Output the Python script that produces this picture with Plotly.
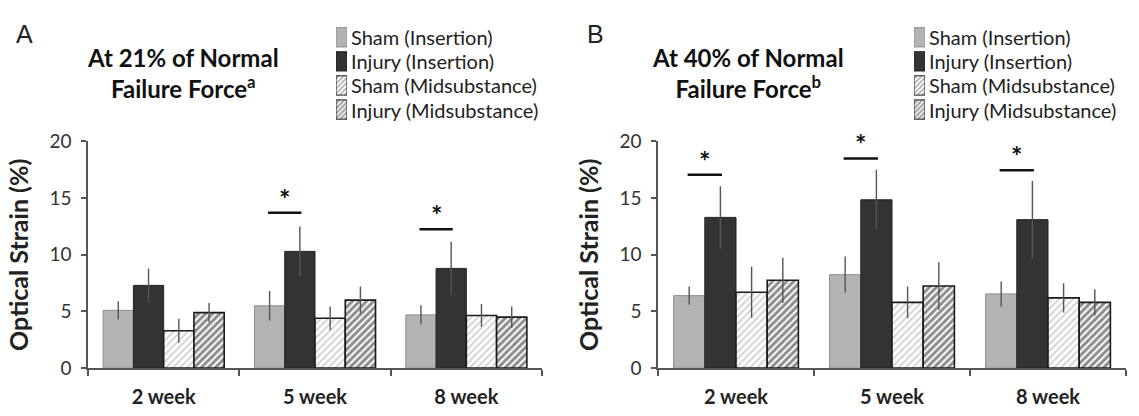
import plotly.graph_objects as go

weeks = ["2 week", "5 week", "8 week"]
series_names = ["Sham (Insertion)", "Injury (Insertion)", "Sham (Midsubstance)", "Injury (Midsubstance)"]

# Panel A: at 21% of normal failure force
a_sham_ins = [5.1, 5.5, 4.7]
a_sham_ins_err = [0.8, 1.3, 0.85]
a_inj_ins = [7.3, 10.3, 8.8]
a_inj_ins_err = [1.5, 2.2, 2.35]
a_sham_mid = [3.3, 4.4, 4.65]
a_sham_mid_err = [1.05, 1.05, 1.0]
a_inj_mid = [4.9, 6.0, 4.5]
a_inj_mid_err = [0.85, 1.2, 0.95]
a_sig_weeks = [1, 2]
a_sig_y = [13.7, 12.25]

# Panel B: at 40% of normal failure force
b_sham_ins = [6.4, 8.25, 6.55]
b_sham_ins_err = [0.8, 1.6, 1.1]
b_inj_ins = [13.3, 14.85, 13.1]
b_inj_ins_err = [2.75, 2.65, 3.4]
b_sham_mid = [6.7, 5.8, 6.2]
b_sham_mid_err = [2.25, 1.4, 1.3]
b_inj_mid = [7.75, 7.25, 5.8]
b_inj_mid_err = [2.0, 2.1, 1.15]
b_sig_weeks = [0, 1, 2]
b_sig_y = [17.05, 18.5, 17.45]

FONT = "Lato"
BARGAP = 0.2
W, H = 1139, 416

fill_colors = ["#b3b3b3", "#333333", "white", "white"]
line_colors = ["#8e8e8e", "#222222", "#1a1a1a", "#1a1a1a"]
line_widths = [1, 1, 1.6, 1.6]
pat_shapes = ["", "", "/", "/"]
pat_fg = ["#b3b3b3", "#333333", "#a8a8a8", "#1e1e1e"]
pat_solidity = [0.3, 0.3, 0.4, 0.6]

def marker(i, size=5):
    m = dict(color=fill_colors[i], line=dict(color=line_colors[i], width=line_widths[i]))
    if pat_shapes[i]:
        m["pattern"] = dict(shape=pat_shapes[i], fgcolor=pat_fg[i], bgcolor="white",
                            size=size, solidity=pat_solidity[i])
    return m

panels = [
    dict(xa="x", ya="y",
         vals=[a_sham_ins, a_inj_ins, a_sham_mid, a_inj_mid],
         errs=[a_sham_ins_err, a_inj_ins_err, a_sham_mid_err, a_inj_mid_err],
         sig_w=a_sig_weeks, sig_y=a_sig_y),
    dict(xa="x2", ya="y2",
         vals=[b_sham_ins, b_inj_ins, b_sham_mid, b_inj_mid],
         errs=[b_sham_ins_err, b_inj_ins_err, b_sham_mid_err, b_inj_mid_err],
         sig_w=b_sig_weeks, sig_y=b_sig_y),
]

fig = go.Figure()
shapes = []
annotations = []
nbars = len(series_names)
bw = (1 - BARGAP) / nbars
for p in panels:
    for i, name in enumerate(series_names):
        fig.add_trace(go.Bar(
            x=weeks, y=p["vals"][i], name=name, marker=marker(i),
            error_y=dict(type="data", array=p["errs"][i], color="#555555", thickness=1.4, width=0),
            xaxis=p["xa"], yaxis=p["ya"], showlegend=False,
        ))
    # significance markers between Sham (Insertion) and Injury (Insertion)
    c0 = -(1 - BARGAP) / 2 + bw / 2
    c1 = c0 + bw
    for w, yv in zip(p["sig_w"], p["sig_y"]):
        shapes.append(dict(type="line", xref=p["xa"], yref=p["ya"],
                           x0=w + c0 - 0.01, x1=w + c1 + 0.01, y0=yv, y1=yv,
                           line=dict(color="#111111", width=2.5)))
        annotations.append(dict(xref=p["xa"], yref=p["ya"], x=w + (c0 + c1) / 2, y=yv,
                                text="<b>*</b>", showarrow=False, yanchor="bottom", yshift=-4,
                                font=dict(family=FONT, size=27, color="#111111")))

# Legends (one per panel), drawn as small swatch bars with labels
legend_specs = [dict(xa="x3", ya="y3"), dict(xa="x4", ya="y4")]
LEG_TOP, LEG_PITCH = 13, 26
leg_bottom = LEG_TOP + LEG_PITCH * nbars
for spec in legend_specs:
    fig.add_trace(go.Bar(
        x=[1] * nbars, y=series_names, orientation="h",
        marker=dict(color=fill_colors, line=dict(color=line_colors, width=1),
                    pattern=dict(shape=pat_shapes, fgcolor=pat_fg, bgcolor="white",
                                 size=3.5, solidity=pat_solidity)),
        xaxis=spec["xa"], yaxis=spec["ya"], showlegend=False, hoverinfo="skip",
    ))
    for name in series_names:
        annotations.append(dict(xref=spec["xa"], yref=spec["ya"], x=1, y=name, xanchor="left",
                                xshift=3, text=name, showarrow=False, borderpad=0,
                                font=dict(family=FONT, size=20, color="#222222")))

axis_common_x = dict(type="category", tickson="boundaries", ticks="outside", ticklen=6,
                     tickcolor="#555555", tickwidth=1.5, showline=True, linecolor="#555555",
                     linewidth=1.5, showgrid=False, zeroline=False, ticklabelstandoff=10,
                     tickfont=dict(family=FONT, size=20, color="#222222", weight=700))
axis_common_y = dict(range=[0, 20], dtick=5, ticks="outside", ticklen=5, tickcolor="#555555",
                     tickwidth=1.5, showline=True, linecolor="#555555", linewidth=1.5,
                     showgrid=False, zeroline=False, ticklabelstandoff=6,
                     tickfont=dict(family=FONT, size=19, color="#333333"),
                     title=dict(text="<b>Optical Strain (%)</b>", standoff=14,
                                font=dict(family=FONT, size=25, color="#222222")))
hidden_x = dict(range=[0, 1], visible=False, fixedrange=True)
hidden_y = dict(type="category", autorange="reversed", visible=False, fixedrange=True,
                domain=[1 - leg_bottom / H, 1 - LEG_TOP / H])

y0 = (H - 377) / H
y1 = (H - 137) / H

annotations += [
    dict(xref="paper", yref="paper", x=14 / W, y=1 - 23 / H, xanchor="left", yanchor="middle",
         text="A", showarrow=False, font=dict(family="Liberation Sans", size=25, color="#222222")),
    dict(xref="paper", yref="paper", x=585 / W, y=1 - 23 / H, xanchor="left", yanchor="middle",
         text="B", showarrow=False, font=dict(family="Liberation Sans", size=25, color="#222222")),
]
titles = [("At 21% of Normal", "Failure Force<sup>a</sup>", 183),
          ("At 40% of Normal", "Failure Force<sup>b</sup>", 748)]
for l1, l2, cx in titles:
    annotations.append(dict(xref="paper", yref="paper", x=cx / W, y=1 - 65 / H, xanchor="center",
                            yanchor="middle", text="<b>" + l1 + "<br>" + l2 + "</b>",
                            showarrow=False,
                            font=dict(family=FONT, size=24, color="#111111")))

fig.update_layout(
    width=W, height=H,
    margin=dict(l=0, r=0, t=0, b=0),
    paper_bgcolor="white", plot_bgcolor="rgba(0,0,0,0)",
    barmode="group", bargap=BARGAP, bargroupgap=0,
    font=dict(family=FONT, color="#222222"),
    showlegend=False,
    xaxis=dict(domain=[88 / W, 542 / W], anchor="y", **axis_common_x),
    yaxis=dict(domain=[y0, y1], anchor="x", **axis_common_y),
    xaxis2=dict(domain=[658 / W, 1126 / W], anchor="y2", **axis_common_x),
    yaxis2=dict(domain=[y0, y1], anchor="x2", **axis_common_y),
    xaxis3=dict(domain=[336 / W, 347 / W], anchor="y3", **hidden_x),
    yaxis3=dict(anchor="x3", **hidden_y),
    xaxis4=dict(domain=[914 / W, 925 / W], anchor="y4", **hidden_x),
    yaxis4=dict(anchor="x4", **hidden_y),
    shapes=shapes, annotations=annotations,
)

fig.write_html("out.html")
